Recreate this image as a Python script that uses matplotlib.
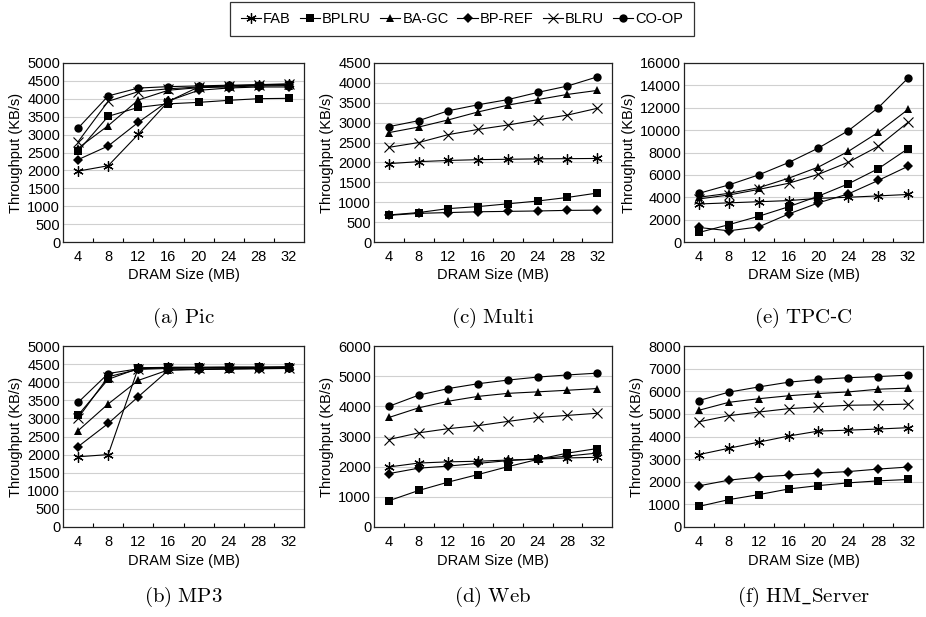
import matplotlib
matplotlib.use("Agg")
import matplotlib.pyplot as plt
from matplotlib.lines import Line2D

plt.rcParams['font.family'] = ['Liberation Sans', 'DejaVu Sans']
plt.rcParams['mathtext.fontset'] = 'cm'

sizes = [4, 8, 12, 16, 20, 24, 28, 32]
series_names = ["FAB", "BPLRU", "BA-GC", "BP-REF", "BLRU", "CO-OP"]

pic = {
    "FAB":    [1980, 2130, 3010, 3930, 4330, 4360, 4395, 4420],
    "BPLRU":  [2540, 3510, 3760, 3860, 3900, 3957, 4004, 4013],
    "BA-GC":  [2620, 3250, 3967, 4240, 4311, 4330, 4360, 4370],
    "BP-REF": [2300, 2682, 3343, 3940, 4237, 4302, 4330, 4330],
    "BLRU":   [2800, 3930, 4200, 4280, 4330, 4360, 4380, 4400],
    "CO-OP":  [3180, 4080, 4300, 4340, 4360, 4380, 4390, 4400],
}
multi = {
    "FAB":    [1970, 2020, 2050, 2070, 2080, 2090, 2095, 2100],
    "BPLRU":  [680, 740, 840, 890, 960, 1030, 1120, 1230],
    "BA-GC":  [2750, 2890, 3070, 3270, 3440, 3580, 3710, 3810],
    "BP-REF": [670, 720, 740, 760, 770, 780, 795, 800],
    "BLRU":   [2380, 2500, 2700, 2830, 2940, 3070, 3190, 3360],
    "CO-OP":  [2900, 3050, 3300, 3450, 3580, 3760, 3920, 4150],
}
tpcc = {
    "FAB":    [3400, 3500, 3600, 3700, 3900, 4000, 4120, 4250],
    "BPLRU":  [850, 1550, 2300, 3150, 4100, 5200, 6550, 8350],
    "BA-GC":  [4000, 4350, 4850, 5700, 6700, 8100, 9800, 11850],
    "BP-REF": [1300, 1000, 1350, 2500, 3500, 4300, 5500, 6770],
    "BLRU":   [3850, 4200, 4700, 5250, 6050, 7130, 8550, 10700],
    "CO-OP":  [4350, 5100, 6000, 7100, 8400, 9950, 12000, 14650],
}
mp3 = {
    "FAB":    [1940, 2000, 4400, 4410, 4410, 4420, 4420, 4430],
    "BPLRU":  [3090, 4080, 4380, 4410, 4410, 4410, 4410, 4410],
    "BA-GC":  [2660, 3400, 4050, 4340, 4360, 4370, 4380, 4390],
    "BP-REF": [2220, 2860, 3600, 4330, 4350, 4360, 4370, 4380],
    "BLRU":   [3010, 4150, 4354, 4380, 4390, 4390, 4390, 4390],
    "CO-OP":  [3440, 4240, 4370, 4400, 4400, 4400, 4400, 4400],
}
web = {
    "FAB":    [1990, 2120, 2160, 2180, 2220, 2250, 2290, 2310],
    "BPLRU":  [870, 1210, 1490, 1740, 2000, 2240, 2450, 2600],
    "BA-GC":  [3630, 3950, 4170, 4330, 4430, 4480, 4533, 4590],
    "BP-REF": [1770, 1950, 2020, 2110, 2200, 2260, 2350, 2450],
    "BLRU":   [2900, 3120, 3260, 3360, 3500, 3630, 3700, 3770],
    "CO-OP":  [4000, 4370, 4590, 4750, 4870, 4970, 5040, 5100],
}
hm = {
    "FAB":    [3200, 3480, 3750, 4020, 4240, 4280, 4330, 4390],
    "BPLRU":  [910, 1210, 1430, 1680, 1830, 1950, 2040, 2100],
    "BA-GC":  [5160, 5510, 5670, 5800, 5900, 5970, 6090, 6140],
    "BP-REF": [1820, 2070, 2210, 2290, 2380, 2450, 2560, 2650],
    "BLRU":   [4650, 4920, 5080, 5230, 5310, 5380, 5400, 5430],
    "CO-OP":  [5590, 5960, 6190, 6400, 6520, 6600, 6650, 6710],
}

captions = [r"$\mathrm{(a)\ Pic}$", r"$\mathrm{(c)\ Multi}$", r"$\mathrm{(e)\ TPC}$-$\mathrm{C}$",
            r"$\mathrm{(b)\ MP3}$", r"$\mathrm{(d)\ Web}$", r"$\mathrm{(f)\ HM\_Server}$"]
datasets = [pic, multi, tpcc, mp3, web, hm]
ymaxes = [5000, 4500, 16000, 5000, 6000, 8000]
ysteps = [500, 500, 2000, 500, 1000, 1000]

markers = {
    "FAB": dict(marker=(6, 2, 0), ms=7.5, mew=0.9),
    "BPLRU": dict(marker='s', ms=5.5, mew=0),
    "BA-GC": dict(marker='^', ms=6, mew=0),
    "BP-REF": dict(marker='D', ms=5, mew=0),
    "BLRU": dict(marker='x', ms=6.5, mew=0.8),
    "CO-OP": dict(marker='o', ms=6, mew=0),
}

W, H = 926, 617
fig = plt.figure(figsize=(W / 100, H / 100), dpi=100)

lefts = [63, 374, 684]
rights = [304, 612, 923]
tops = [63, 346]
bottoms = [242, 527]
cap_y = [318, 597]

FS = 10.5
for idx, data in enumerate(datasets):
    r, c = divmod(idx, 3)
    l, rr = lefts[c], rights[c]
    t, b = tops[r], bottoms[r]
    ax = fig.add_axes([l / W, 1 - b / H, (rr - l) / W, (b - t) / H])
    xs = list(range(len(sizes)))
    for name in series_names:
        ax.plot(xs, data[name], color='black', lw=0.8, mec='black', mfc='black',
                **markers[name], zorder=3)
    ax.set_xlim(-0.5, len(sizes) - 0.5)
    ax.set_ylim(0, ymaxes[idx])
    ax.set_yticks(range(0, ymaxes[idx] + 1, ysteps[idx]))
    ax.set_xticks(xs)
    ax.set_xticklabels([str(s) for s in sizes], fontsize=FS)
    ax.set_xticks([x + 0.5 for x in xs[:-1]], minor=True)
    ax.tick_params(axis='x', which='major', length=0, pad=6)
    ax.tick_params(axis='x', which='minor', length=3, direction='in', width=0.8)
    ax.tick_params(axis='y', which='major', length=0, pad=2, labelsize=FS)
    ax.yaxis.grid(True, color='#d0d0d0', lw=0.8)
    ax.set_axisbelow(True)
    for s in ax.spines.values():
        s.set_color('#222222')
        s.set_linewidth(0.9)
    ax.set_ylabel("Throughput (KB/s)", fontsize=FS, labelpad=3)
    ax.set_xlabel("DRAM Size (MB)", fontsize=FS, labelpad=3)
    fig.text(((l + rr) / 2) / W, 1 - cap_y[r] / H, captions[idx], fontsize=15,
             ha='center', va='center')

handles = [Line2D([0], [0], color='black', lw=0.8, mec='black', mfc='black', **markers[n])
           for n in series_names]
leg = fig.legend(handles, series_names, loc='center', bbox_to_anchor=(462 / W, 1 - 19 / H),
                 ncol=6, fontsize=FS, frameon=True, fancybox=False, edgecolor='black',
                 handlelength=1.4, handletextpad=0.15, columnspacing=0.6, borderpad=0.7)
leg.get_frame().set_linewidth(0.9)

fig.savefig("out.png", dpi=100)
